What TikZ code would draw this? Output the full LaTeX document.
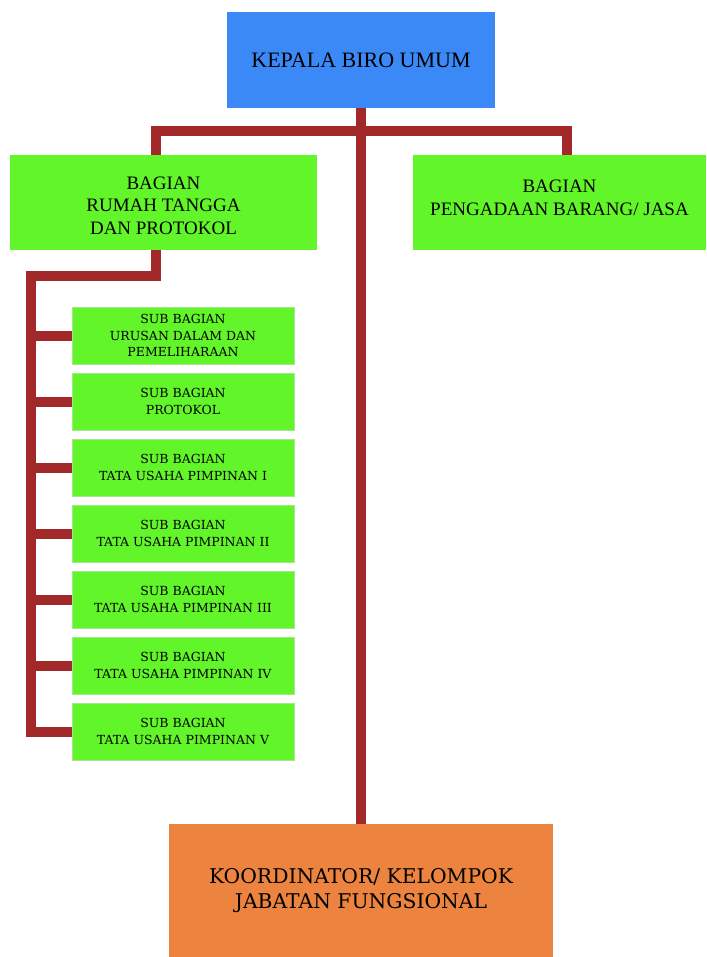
\documentclass[tikz,border=0pt]{standalone}
\usepackage{fontspec}
\setmainfont{Liberation Serif}
\newfontfamily\wideserif{DejaVu Serif}
\definecolor{headblue}{HTML}{3B88F7}
\definecolor{boxgreen}{HTML}{62F62A}
\definecolor{boxorange}{HTML}{EC8440}
\definecolor{linered}{HTML}{A2282A}
\tikzset{
  orgbox/.style={rectangle, inner sep=0pt, align=center, text=black},
  headbox/.style={orgbox, fill=headblue, minimum width=268pt, minimum height=96pt, font=\fontsize{22}{25}\selectfont},
  unitbox/.style={orgbox, fill=boxgreen, minimum height=95pt, font=\fontsize{19}{22.5}\selectfont},
  subbox/.style={orgbox, fill=boxgreen, draw=boxgreen!70!gray!60, line width=0.8pt, minimum width=222pt, minimum height=57pt, font=\wideserif\fontsize{12.5}{16.5}\selectfont},
  funcbox/.style={orgbox, fill=boxorange, minimum width=384pt, minimum height=133pt, font=\wideserif\fontsize{20.3}{25}\selectfont},
  conn/.style={draw=linered, line width=10pt, line join=miter}
}
\begin{document}
\begin{tikzpicture}[x=1pt, y=-1pt]
\useasboundingbox (0,0) rectangle (706,957);
\fill[white] (0,0) rectangle (706,957);
\node[headbox] (kepala) at (361,60) {KEPALA BIRO UMUM};
\node[unitbox, minimum width=307pt] (rt) at (163.5,202.5) {\raisebox{-5pt}[\height][\depth]{\begin{tabular}{@{}c@{}}BAGIAN\\RUMAH TANGGA\\DAN PROTOKOL\end{tabular}}};
\node[unitbox, minimum width=293pt] (pb) at (559.5,202.5) {BAGIAN\\PENGADAAN BARANG/ JASA\\[-13pt]\mbox{}};
\node[funcbox] (koord) at (361,890.5) {KOORDINATOR/ KELOMPOK\\JABATAN FUNGSIONAL};
\node[subbox] (s1) at (183,335.5) {SUB BAGIAN\\URUSAN DALAM DAN\\PEMELIHARAAN};
\node[subbox] (s2) at (183,401.5) {SUB BAGIAN\\PROTOKOL};
\node[subbox] (s3) at (183,467.5) {SUB BAGIAN\\TATA USAHA PIMPINAN I};
\node[subbox] (s4) at (183,533.5) {SUB BAGIAN\\TATA USAHA PIMPINAN II};
\node[subbox] (s5) at (183,599.5) {SUB BAGIAN\\TATA USAHA PIMPINAN III};
\node[subbox] (s6) at (183,665.5) {SUB BAGIAN\\TATA USAHA PIMPINAN IV};
\node[subbox] (s7) at (183,731.5) {SUB BAGIAN\\TATA USAHA PIMPINAN V};
\coordinate (jl) at (156,131);
\coordinate (jr) at (567,131);
\coordinate (k1) at (156,276);
\coordinate (k2) at (31,276);
\draw[conn] (kepala.south) -- (koord.north);
\draw[conn] (rt.north -| jl) -- (jl) -- (jr) -- (pb.north -| jr);
\draw[conn] (rt.south -| k1) -- (k1) -- (k2) -- (k2 |- s7.west) -- (s7.west);
\foreach \s in {s1,s2,s3,s4,s5,s6}{
  \draw[conn] (k2 |- \s.west) -- (\s.west);
}
\end{tikzpicture}
\end{document}
